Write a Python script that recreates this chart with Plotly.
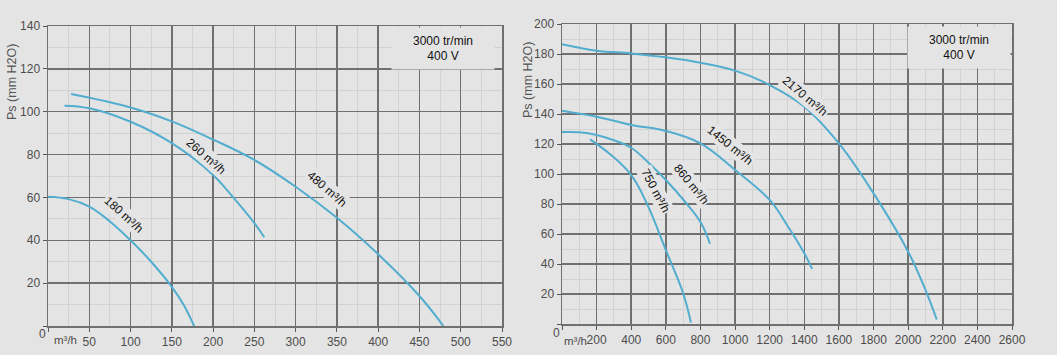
import math
import plotly.graph_objects as go

W, H = 1057, 355
BG = "#e4e4e4"
CURVE = "#52adcf"
MAJOR = "#707070"
MINOR = "#d2d2d2"
FONT = "Liberation Sans, Arial, sans-serif"

# ---------------- left chart data (m3/h, mm H2O) ----------------
q180 = [0, 25, 50, 75, 100, 125, 150, 165, 177]
p180 = [60.3, 59.2, 55.7, 48.8, 40, 30, 18.3, 9.5, 0]

q260 = [20, 50, 100, 150, 200, 220, 250, 262]
p260 = [102.8, 101.6, 95.3, 85.3, 70.5, 62, 48, 41.4]

q480 = [28, 100, 150, 200, 250, 300, 350, 400, 450, 479]
p480 = [108.3, 102, 95.5, 87, 77.5, 65, 50.5, 33.5, 14, 0]

left_curves = [(q180, p180), (q260, p260), (q480, p480)]
left_labels = ["180 m³/h", "260 m³/h", "480 m³/h"]
left_label_pos = [(86, 50), (186, 77), (333, 61.6)]
left_label_ang = [42, 41, 41]
left_xticks = [0, 50, 100, 150, 200, 250, 300, 350, 400, 450, 500, 550]
left_yticks = [0, 20, 40, 60, 80, 100, 120, 140]

# ---------------- right chart data ----------------
q2170 = [0, 200, 400, 600, 800, 1000, 1200, 1400, 1600, 1800, 2000, 2100, 2165]
p2170 = [186.5, 182.2, 180.4, 177.8, 174.2, 168.9, 159.3, 144.9, 120.4, 87.1, 48.2, 22.7, 3]

q1450 = [0, 200, 400, 600, 800, 1000, 1200, 1300, 1400, 1445]
p1450 = [142.2, 138.2, 132.7, 128.7, 120.4, 102.7, 82.7, 66, 47.1, 36.7]

q860 = [0, 100, 200, 300, 400, 500, 600, 700, 800, 855]
p860 = [128, 127.8, 126, 122.5, 117.5, 107.5, 96, 83, 68, 53.5]

q750 = [162, 280, 400, 490, 600, 700, 745]
p750 = [123.1, 113, 99.3, 80.4, 49.3, 20.4, 0.9]

right_curves = [(q2170, p2170), (q1450, p1450), (q860, p860), (q750, p750)]
right_labels = ["2170 m³/h", "1450 m³/h", "860 m³/h", "750 m³/h"]
right_label_pos = [(1381, 148.9), (946, 116), (720, 91), (512, 87)]
right_label_ang = [40, 39, 51, 62]
right_xticks = [0, 200, 400, 600, 800, 1000, 1200, 1400, 1600, 1800, 2000, 2200, 2400, 2600]
right_yticks = [0, 20, 40, 60, 80, 100, 120, 140, 160, 180, 200]

speed_text = "3000 tr/min<br>400 V"
ytitle = "Ps (mm H2O)"
xunit = "m³/h"

fig = go.Figure()


def add_curves(curves, xa, ya):
    for q, p in curves:
        fig.add_trace(go.Scatter(
            x=q, y=p, mode="lines", xaxis=xa, yaxis=ya,
            line=dict(color=CURVE, width=2, shape="spline", smoothing=1.1),
            hoverinfo="skip", showlegend=False))


add_curves(left_curves, "x", "y")
add_curves(right_curves, "x2", "y2")


def px_x(p):
    return p / W


def px_y(p):
    return 1 - p / H


def axis(dom, ticks, minor_dt, anchor):
    return dict(
        domain=dom, range=[ticks[0], ticks[-1]], anchor=anchor,
        tickmode="array", tickvals=ticks,
        ticktext=[""] + [str(t) for t in ticks[1:]],
        showgrid=True, gridcolor=MAJOR, gridwidth=1.5,
        minor=dict(dtick=minor_dt, tick0=0, showgrid=True,
                   gridcolor=MINOR, gridwidth=1),
        ticks="outside", ticklen=4, tickcolor="#555", tickwidth=1,
        showline=True, linecolor=MAJOR, linewidth=1.5, mirror=True,
        zeroline=False, automargin=False,
        tickfont=dict(family=FONT, size=12, color="#4d4d4d"),
    )


fig.update_layout(
    width=W, height=H,
    margin=dict(l=0, r=0, t=0, b=0),
    paper_bgcolor=BG, plot_bgcolor=BG,
    font=dict(family=FONT, size=12, color="#222"),
    xaxis=axis([px_x(48), px_x(502)], left_xticks, 25, "y"),
    yaxis=axis([px_y(326), px_y(26)], left_yticks, 10, "x"),
    xaxis2=axis([px_x(562), px_x(1012)], right_xticks, 100, "y2"),
    yaxis2=axis([px_y(324), px_y(24)], right_yticks, 10, "x2"),
)

ann = []
OFF = 6  # perpendicular offset of curve labels (px)


def curve_label(lab, x, y, a, xr, yr):
    r = math.radians(a)
    return dict(x=x, y=y, xref=xr, yref=yr, text=lab, showarrow=False,
                textangle=a, bgcolor=BG, borderpad=1,
                xshift=OFF * math.sin(r), yshift=OFF * math.cos(r),
                font=dict(size=12, color="#111"))


for lab, (x, y), a in zip(left_labels, left_label_pos, left_label_ang):
    ann.append(curve_label(lab, x, y, a, "x", "y"))
for lab, (x, y), a in zip(right_labels, right_label_pos, right_label_ang):
    ann.append(curve_label(lab, x, y, a, "x2", "y2"))

# speed boxes
for cx, cy in [(443, 48), (959, 47)]:
    ann.append(dict(x=px_x(cx), y=px_y(cy), xref="paper", yref="paper",
                    text=speed_text, showarrow=False, width=100, height=39,
                    bgcolor=BG, font=dict(size=12, color="#111"),
                    xanchor="center", yanchor="middle"))

# y titles
for cx, cy in [(12, 82), (528, 80)]:
    ann.append(dict(x=px_x(cx), y=px_y(cy), xref="paper", yref="paper",
                    text=ytitle, showarrow=False, textangle=-90,
                    font=dict(size=12.5, color="#555"),
                    xanchor="center", yanchor="middle"))

# origin "0" and unit labels
for (zx, zy), (ux, uy) in [((42.5, 334), (65, 340)), ((556.5, 333), (575, 341))]:
    ann.append(dict(x=px_x(zx), y=px_y(zy), xref="paper", yref="paper",
                    text="0", showarrow=False,
                    font=dict(size=12, color="#4d4d4d"),
                    xanchor="center", yanchor="middle"))
    ann.append(dict(x=px_x(ux), y=px_y(uy), xref="paper", yref="paper",
                    text=xunit, showarrow=False,
                    font=dict(size=11.5, color="#4d4d4d"),
                    xanchor="center", yanchor="middle"))

fig.update_layout(annotations=ann)

fig.write_html(
    "out.html",
    config={"displayModeBar": False, "staticPlot": True},
    post_script="document.body.style.margin='0';document.body.style.overflow='hidden';",
)
